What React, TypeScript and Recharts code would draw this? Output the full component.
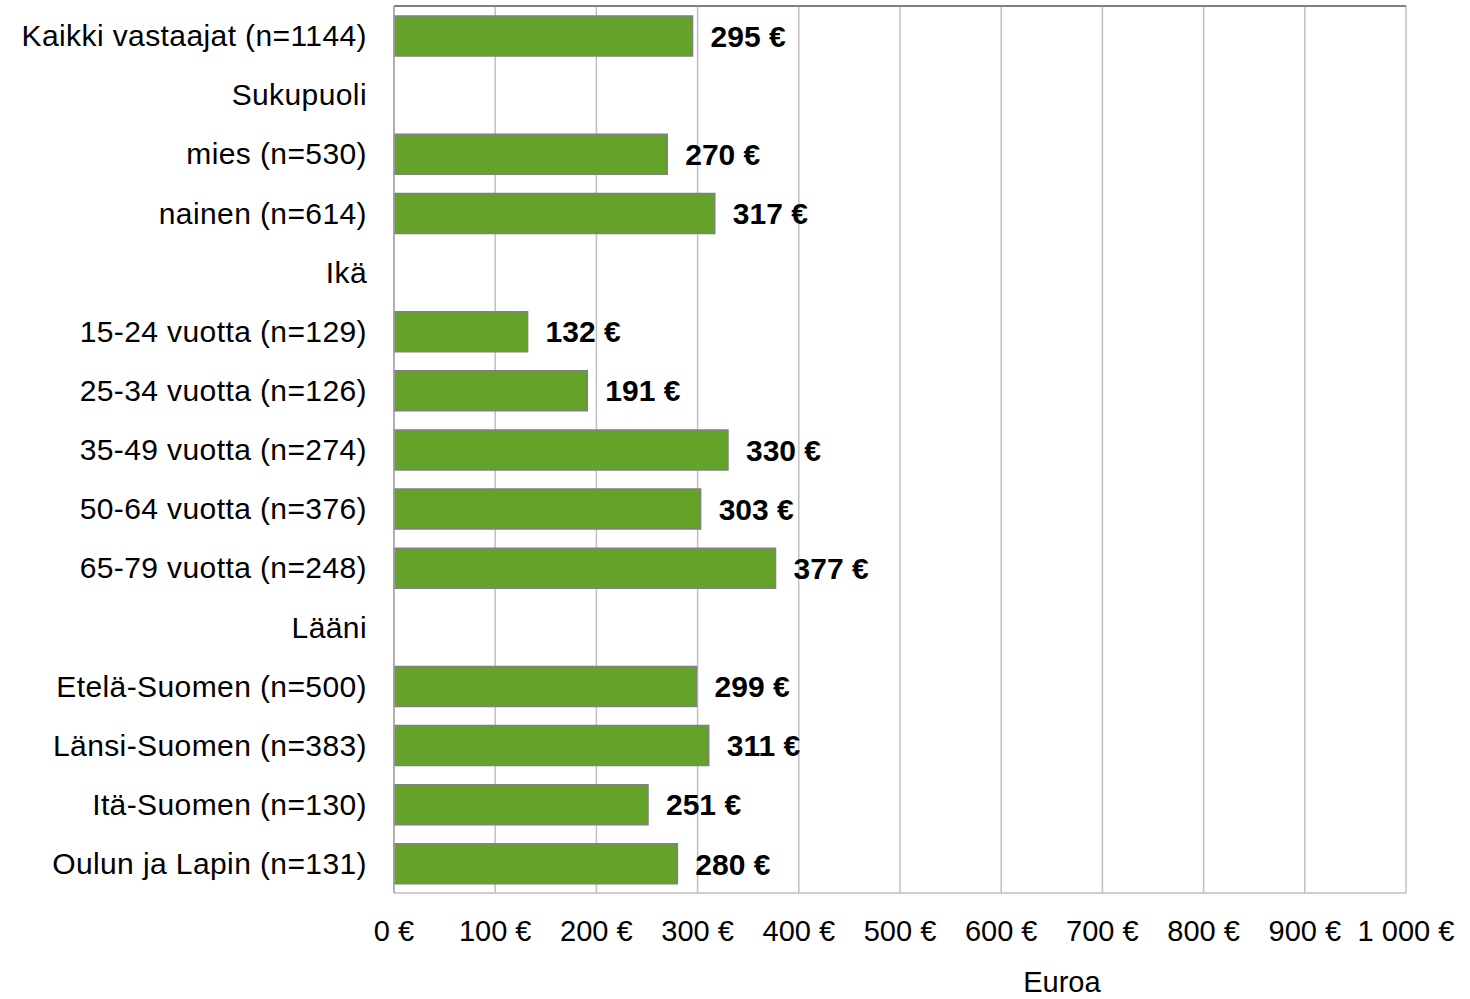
import React from 'react';
import { BarChart, Bar, XAxis, YAxis, CartesianGrid, LabelList } from 'recharts';

const categories = [
  'Kaikki vastaajat (n=1144)',
  'Sukupuoli',
  'mies (n=530)',
  'nainen (n=614)',
  'Ikä',
  '15-24 vuotta (n=129)',
  '25-34 vuotta (n=126)',
  '35-49 vuotta (n=274)',
  '50-64 vuotta (n=376)',
  '65-79 vuotta (n=248)',
  'Lääni',
  'Etelä-Suomen (n=500)',
  'Länsi-Suomen (n=383)',
  'Itä-Suomen (n=130)',
  'Oulun ja Lapin (n=131)',
];
const values: (number | null)[] = [295, null, 270, 317, null, 132, 191, 330, 303, 377, null, 299, 311, 251, 280];
const xTicks = [0, 100, 200, 300, 400, 500, 600, 700, 800, 900, 1000];
const axisTitle = 'Euroa';

const data = categories.map((c, i) => ({ name: c, value: values[i] }));

const FONT = '"Liberation Sans", Arial, sans-serif';
const GRID = '#c0c0c0';

const fmtEuro = (v: number) => {
  const s = v >= 1000 ? `${Math.floor(v / 1000)} ${String(v % 1000).padStart(3, '0')}` : String(v);
  return `${s} €`;
};

const EuroaLabel = (props: any) => {
  const vb = props.viewBox || {};
  return (
    <text x={vb.x + vb.width * 0.66} y={vb.y + vb.height - 7} textAnchor="middle" fontFamily={FONT} fontSize={29} fill="#000">
      {axisTitle}
    </text>
  );
};

export default function App() {
  return (
    <div style={{ position: 'absolute', left: 0, top: 0, width: 1470, height: 999, background: '#fff' }}>
      <BarChart
        width={1470}
        height={999}
        data={data}
        layout="vertical"
        margin={{ top: 5, right: 64, bottom: 0, left: 0 }}
      >
        <CartesianGrid horizontal={false} stroke={GRID} strokeWidth={1.5} />
        <XAxis
          type="number"
          domain={[0, 1000]}
          ticks={xTicks}
          interval={0}
          tickFormatter={fmtEuro}
          tickLine={false}
          tickSize={0}
          tickMargin={27}
          axisLine={{ stroke: GRID, strokeWidth: 1.5 }}
          height={106}
          tick={{ fontFamily: FONT, fontSize: 29, fill: '#000' } as any}
          label={<EuroaLabel />}
        />
        <XAxis
          xAxisId="top"
          orientation="top"
          type="number"
          domain={[0, 1000]}
          height={1}
          tick={false}
          tickLine={false}
          axisLine={{ stroke: '#808080', strokeWidth: 2 }}
        />
        <YAxis
          type="category"
          dataKey="name"
          width={394}
          interval={0}
          tickLine={false}
          tickSize={0}
          tickMargin={27}
          axisLine={{ stroke: '#a6a6a6', strokeWidth: 1.5 }}
          tick={{ fontFamily: FONT, fontSize: 30, fill: '#000', letterSpacing: 0.4 } as any}
        />
        <Bar dataKey="value" fill="#65a22a" stroke="#808080" strokeWidth={1.5} barSize={40} isAnimationActive={false}>
          <LabelList
            dataKey="value"
            position="right"
            offset={18}
            formatter={(v: any) => (v == null ? '' : `${v} €`)}
            style={{ fontFamily: FONT, fontSize: 30, fontWeight: 'bold', fill: '#000' }}
          />
        </Bar>
      </BarChart>
    </div>
  );
}
